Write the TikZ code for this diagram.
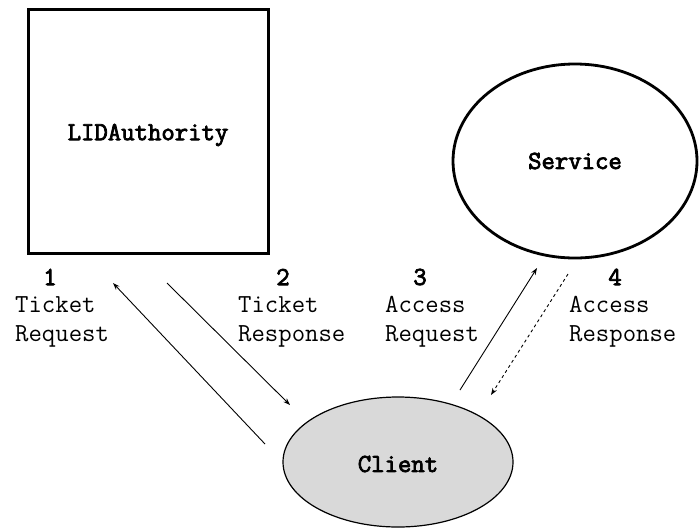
\documentclass[tikz,border=0pt]{standalone}
\usepackage{fontspec}
\newfontfamily\boldtt{Latin Modern Mono}[FakeBold=3]
\usetikzlibrary{arrows.meta}

\tikzset{
    msg/.style={font=\ttfamily\fontsize{26}{29}\selectfont, inner sep=0pt, align=left, anchor=west},
    num/.style={font=\boldtt\fontsize{26}{29}\selectfont, inner sep=0pt},
    title/.style={font=\boldtt\fontsize{26}{29}\selectfont, inner sep=0pt},
    link/.style={line width=0.9pt, -{Stealth[length=7pt, width=5pt]}}
}

\begin{document}
\begin{tikzpicture}[x=1pt, y=-1pt]
    \useasboundingbox (0, 0) rectangle (700, 531);

    % Сервер выдачи билетов (прямоугольник)
    \draw[line width=3pt] (28, 9) rectangle (268, 253);
    \node[title] (lid) at (148, 135) {LIDAuthority};

    % Сервис (эллипс)
    \draw[line width=2.8pt] (575, 161) ellipse (122 and 97);
    \node[title] (service) at (575, 161) {Service};

    % Клиент (серый эллипс)
    \filldraw[fill=black!15, line width=1.2pt] (398, 462) ellipse (115 and 65);
    \node[title] (client) at (398, 464) {Client};

    % Номера шагов
    \node[num] (n1) at (50, 277) {1};
    \node[num] (n2) at (283, 277) {2};
    \node[num] (n3) at (420, 277) {3};
    \node[num] (n4) at (615, 277) {4};

    % Подписи сообщений
    \node[msg] (m1) at (15, 322) {Ticket\\Request};
    \node[msg] (m2) at (238, 322) {Ticket\\Response};
    \node[msg] (m3) at (385, 322) {Access\\Request};
    \node[msg] (m4) at (569, 322) {Access\\Response};

    % Концы стрелок
    \coordinate (a1) at (265, 444);
    \coordinate (b1) at (113, 283);
    \coordinate (a2) at (167, 283);
    \coordinate (b2) at (290, 405);
    \coordinate (a3) at (460, 390);
    \coordinate (b3) at (537, 268);
    \coordinate (a4) at (568, 274);
    \coordinate (b4) at (491, 395);

    % Стрелки
    \draw[link] (a1) -- (b1);
    \draw[link] (a2) -- (b2);
    \draw[link] (a3) -- (b3);
    \draw[link, dashed] (a4) -- (b4);
\end{tikzpicture}
\end{document}
